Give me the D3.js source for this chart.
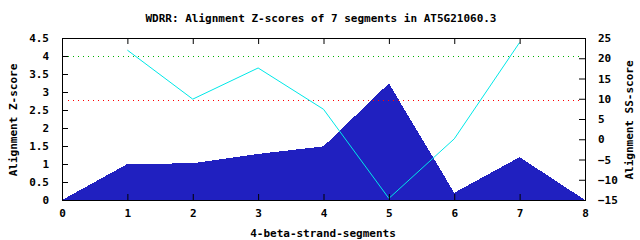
<!DOCTYPE html>
<html>
<head>
<meta charset="utf-8">
<script src="https://cdn.jsdelivr.net/npm/d3@7"></script>
<style>
body { margin: 0; background: white; }
text { font-family: "DejaVu Sans Mono", monospace; font-weight: bold; font-size: 11px; fill: black; }
</style>
</head>
<body>
<div id="chart"></div>
<script>
// data
let segments = [0, 1, 2, 3, 4, 5, 6, 7, 8];
let zScores = [0, 1.0, 1.02, 1.28, 1.49, 3.24, 0.2, 1.19, 0];
let ssX = [1, 2, 3, 4, 5, 6, 7];
let ssScores = [22, 9.9, 17.6, 7.4, -14.6, 0.1, 23.9];
let zTicks = [0, 0.5, 1, 1.5, 2, 2.5, 3, 3.5, 4, 4.5];
let ssTicks = [-15, -10, -5, 0, 5, 10, 15, 20, 25];
let thresholds = [{z: 4.0, color: "#00b000"}, {z: 2.79, color: "#ff0000"}];

let pLeft = 62, pRight = 585, pTop = 38, pBottom = 200;

let svg = d3.select("#chart").append("svg")
  .attr("width", 640)
  .attr("height", 240)

let x = d3.scaleLinear().domain([0, 8]).range([pLeft, pRight]);
let y = d3.scaleLinear().domain([0, 4.5]).range([pBottom, pTop]);
let y2 = d3.scaleLinear().domain([-15, 25]).range([pBottom, pTop]);

// blue area
let areaChart = d3.area()
  .x((d, i) => x(segments[i]))
  .y0(pBottom)
  .y1(d => y(d));

svg.append("path")
  .attr("d", areaChart(zScores))
  .attr("fill", "#2020c0")
  .attr("shape-rendering", "crispEdges");

// dotted thresholds
svg.selectAll(".thr")
  .data(thresholds)
  .enter()
  .append("line")
  .attr("x1", pLeft + 6)
  .attr("x2", pRight - 6)
  .attr("y1", d => Math.round(y(d.z)) + 0.5)
  .attr("y2", d => Math.round(y(d.z)) + 0.5)
  .attr("stroke", d => d.color)
  .attr("stroke-width", 1)
  .attr("stroke-dasharray", "1,4");

// SS line
let line = d3.line()
  .x((d, i) => x(ssX[i]))
  .y(d => y2(d));

svg.append("path")
  .attr("d", line(ssScores))
  .attr("fill", "none")
  .attr("stroke", "#00e8e8")
  .attr("stroke-width", 1);

// axes
let xAxis = d3.axisBottom(x).tickValues(segments).tickSizeInner(-6).tickSizeOuter(0).tickPadding(9).tickFormat(d3.format("d"));
let xTop = d3.axisTop(x).tickValues(segments).tickSizeInner(-6).tickSizeOuter(0).tickFormat("");
let yAxis = d3.axisLeft(y).tickValues(zTicks).tickSizeInner(-6).tickSizeOuter(0).tickPadding(13).tickFormat(d => d3.format("")(d));
let y2Axis = d3.axisRight(y2).tickValues(ssTicks).tickSizeInner(-6).tickSizeOuter(0).tickPadding(13).tickFormat(d3.format("d"));

let gx = svg.append("g").attr("transform", `translate(0,${pBottom})`).call(xAxis);
let gt = svg.append("g").attr("transform", `translate(0,${pTop})`).call(xTop);
let gy = svg.append("g").attr("transform", `translate(${pLeft},0)`).call(yAxis);
let gy2 = svg.append("g").attr("transform", `translate(${pRight},0)`).call(y2Axis);

[gx, gt, gy, gy2].forEach(g => {
  g.selectAll("path").remove();
  g.selectAll("line").attr("stroke", "black");
  g.selectAll("text").attr("font-family", null).attr("font-size", null);
});
gy2.selectAll("text").attr("text-anchor", "start");

svg.append("rect")
  .attr("x", pLeft + 0.5)
  .attr("y", pTop + 0.5)
  .attr("width", pRight - pLeft)
  .attr("height", pBottom - pTop)
  .attr("fill", "none")
  .attr("stroke", "black");

// titles
svg.append("text")
  .attr("x", 321)
  .attr("y", 22)
  .attr("text-anchor", "middle")
  .text("WDRR: Alignment Z-scores of 7 segments in AT5G21060.3");

svg.append("text")
  .attr("x", 323)
  .attr("y", 237)
  .attr("text-anchor", "middle")
  .text("4-beta-strand-segments");

svg.append("text")
  .attr("transform", "translate(17,120) rotate(-90)")
  .attr("text-anchor", "middle")
  .text("Alignment Z-score");

svg.append("text")
  .attr("transform", "translate(633,120) rotate(-90)")
  .attr("text-anchor", "middle")
  .text("Alignment SS-score");
</script>
</body>
</html>
